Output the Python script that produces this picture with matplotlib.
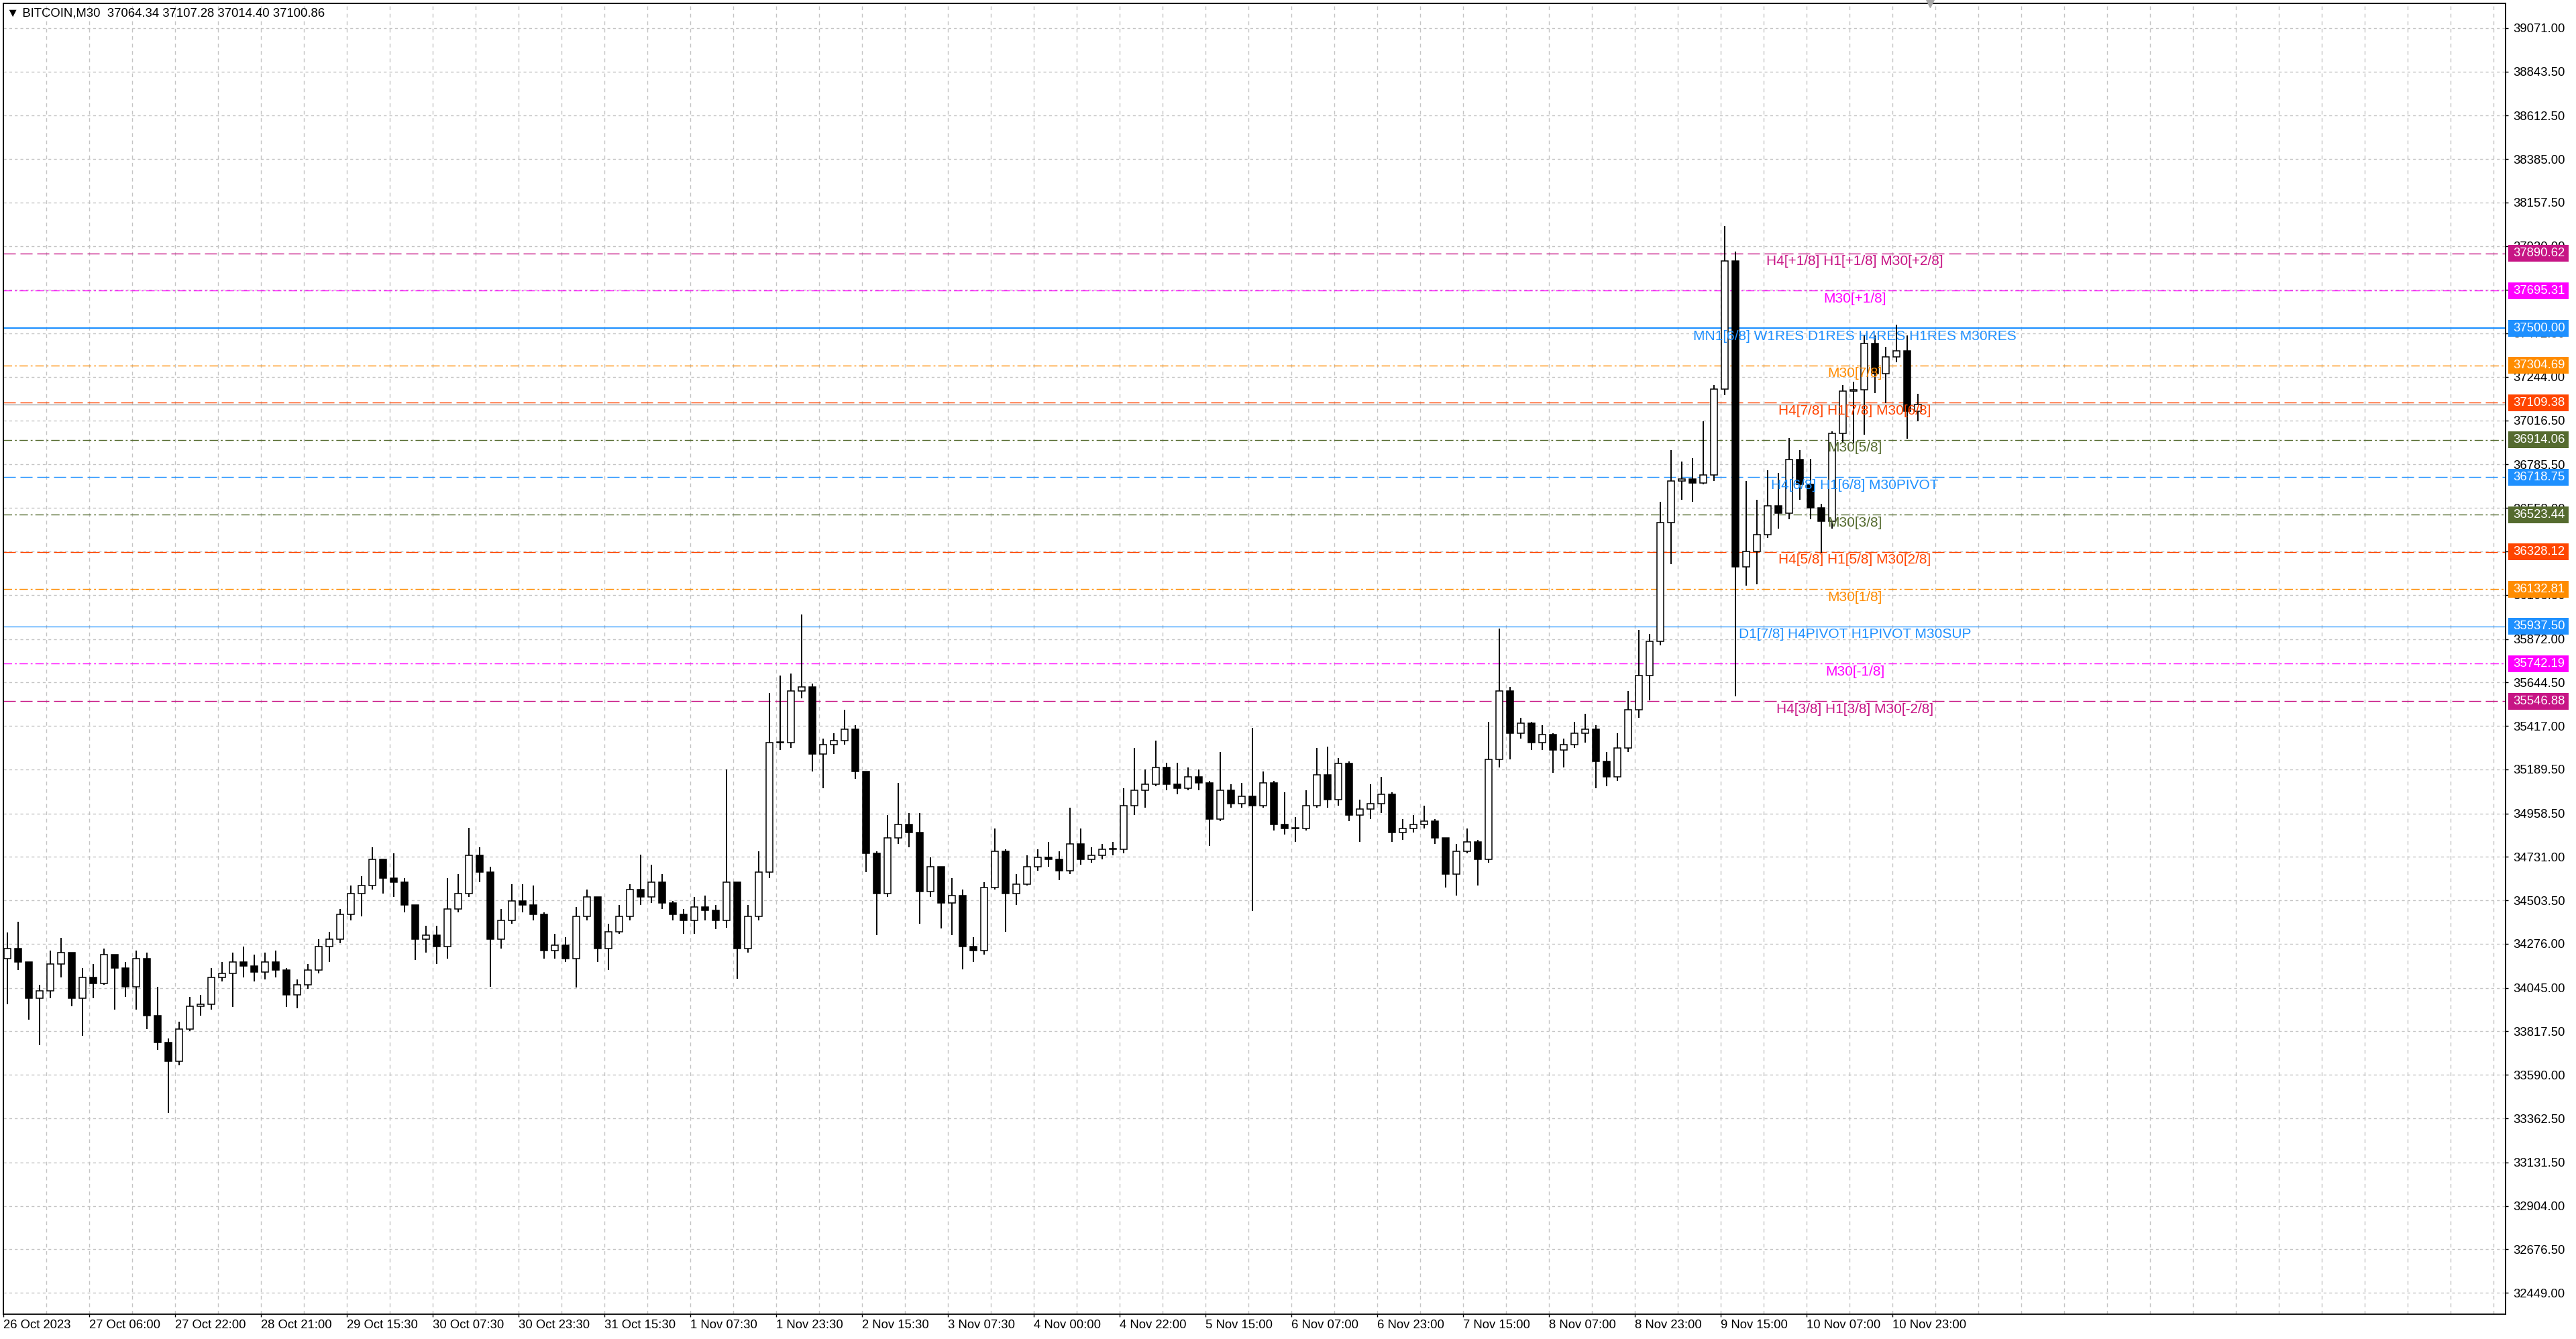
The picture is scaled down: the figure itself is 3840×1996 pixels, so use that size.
import matplotlib
matplotlib.use("Agg")
import matplotlib.pyplot as plt
from matplotlib.patches import Rectangle
from matplotlib.transforms import blended_transform_factory

plt.rcParams['font.family'] = ['Liberation Sans', 'DejaVu Sans']
plt.rcParams['lines.scale_dashes'] = False

# price path in 2-hour steps (4 x M30 bars per candle)
first_open = 34200.0
highs = [
    34334, 34390, 34170, 34060, 34240, 34308, 34230, 34150, 34170, 34250,
    34220, 34180, 34240, 34230, 34050, 33780, 33870, 34000, 34010, 34150,
    34180, 34230, 34260, 34220, 34230, 34240, 34150, 34090, 34170, 34300,
    34340, 34460, 34580, 34630, 34780, 34700, 34750, 34620, 34480, 34370,
    34370, 34620, 34640, 34883, 34780, 34680, 34460, 34590, 34590, 34580,
    34440, 34330, 34310, 34470, 34560, 34520, 34380, 34480, 34590, 34742,
    34690, 34640, 34500, 34460, 34520, 34530, 34480, 35190, 34600, 34480,
    34760, 35590, 35680, 35690, 36001, 35640, 35352, 35380, 35500, 35420,
    35180, 34760, 34950, 35118, 34960, 34960, 34730, 34680, 34620, 34560,
    34310, 34600, 34880, 34770, 34640, 34740, 34770, 34810, 34760, 34990,
    34880, 34780, 34800, 34810, 35090, 35300, 35190, 35340, 35225, 35225,
    35200, 35190, 35130, 35280, 35110, 35120, 35405, 35180, 35130, 35070,
    34940, 35080, 35300, 35310, 35250, 35230, 35030, 35110, 35150, 35070,
    34930, 34950, 35000, 34930, 34830, 34800, 34880, 34820, 35440, 35928,
    35620, 35460, 35440, 35420, 35380, 35350, 35440, 35480, 35420, 35280,
    35380, 35600, 35920, 35900, 36592, 36861, 36802, 36820, 37013, 37200,
    38034, 37900, 36700, 36600, 36755, 36740, 36925, 36860, 36814, 36580,
    36960, 37200, 37220, 37460, 37460, 37400, 37518, 37460, 37155,
]
lows = [
    33960, 34140, 33880, 33746, 33990, 34100, 33950, 33793, 33990, 34060,
    33930, 34000, 33930, 33830, 33720, 33391, 33640, 33820, 33900, 33930,
    34080, 33945, 34100, 34080, 34090, 34100, 33946, 33940, 34040, 34120,
    34180, 34280, 34400, 34420, 34560, 34540, 34520, 34440, 34190, 34230,
    34170, 34200, 34440, 34520, 34600, 34050, 34250, 34380, 34440, 34400,
    34200, 34200, 34180, 34046, 34400, 34180, 34140, 34330, 34400, 34480,
    34490, 34460, 34400, 34330, 34330, 34400, 34353, 34360, 34094, 34230,
    34400, 34620, 35290, 35300, 35560, 35180, 35091, 35270, 35320, 35140,
    34650, 34322, 34520, 34800, 34780, 34380, 34520, 34355, 34320, 34141,
    34181, 34220, 34560, 34340, 34480, 34580, 34660, 34680, 34610, 34640,
    34690, 34700, 34720, 34740, 34750, 34950, 34990, 35100, 35080, 35060,
    35080, 35080, 34790, 34920, 34990, 34990, 34449, 34990, 34870, 34850,
    34810, 34870, 34990, 34990, 35000, 34920, 34810, 34930, 34960, 34810,
    34820, 34860, 34880, 34800, 34570, 34530, 34750, 34580, 34700, 35200,
    35240, 35350, 35290, 35290, 35170, 35200, 35300, 35330, 35090, 35100,
    35130, 35280, 35460, 35550, 35840, 36264, 36600, 36590, 36680, 36700,
    37150, 35573, 36150, 36160, 36400, 36450, 36500, 36600, 36500, 36323,
    36450, 36900, 36896, 36943, 37160, 37107, 37320, 36920, 37013,
]
closes = [
    34250, 34180, 33990, 34030, 34170, 34230, 33990, 34100, 34070, 34220,
    34150, 34050, 34200, 33900, 33760, 33660, 33830, 33950, 33960, 34100,
    34120, 34180, 34160, 34130, 34180, 34140, 34010, 34060, 34140, 34260,
    34300, 34430, 34540, 34580, 34720, 34620, 34600, 34480, 34300, 34320,
    34260, 34460, 34540, 34740, 34650, 34300, 34400, 34500, 34480, 34430,
    34240, 34270, 34200, 34420, 34520, 34250, 34340, 34420, 34560, 34520,
    34600, 34490, 34430, 34400, 34470, 34450, 34400, 34600, 34250, 34420,
    34650, 35330, 35330, 35600, 35620, 35270, 35320, 35340, 35400, 35180,
    34750, 34540, 34830, 34900, 34860, 34550, 34680, 34490, 34530, 34260,
    34240, 34570, 34760, 34540, 34590, 34680, 34730, 34720, 34660, 34800,
    34720, 34740, 34770, 34770, 35000, 35080, 35110, 35200, 35110, 35090,
    35150, 35120, 34930, 35080, 35010, 35050, 35000, 35120, 34900, 34880,
    34880, 35000, 35160, 35030, 35220, 34950, 34980, 35010, 35060, 34860,
    34880, 34900, 34920, 34830, 34640, 34760, 34810, 34720, 35240, 35600,
    35380, 35430, 35330, 35370, 35290, 35320, 35380, 35400, 35230, 35150,
    35300, 35500, 35680, 35860, 36480, 36700, 36710, 36690, 36730, 37180,
    37850, 36250, 36330, 36420, 36570, 36530, 36810, 36680, 36560, 36490,
    36950, 37170, 37177, 37420, 37260, 37350, 37380, 37064, 37100.86,
]
bars_per_candle = 4

# time axis: one label every 32 M30 bars
date_labels = [
    "26 Oct 2023", "27 Oct 06:00", "27 Oct 22:00", "28 Oct 21:00",
    "29 Oct 15:30", "30 Oct 07:30", "30 Oct 23:30", "31 Oct 15:30",
    "1 Nov 07:30", "1 Nov 23:30", "2 Nov 15:30", "3 Nov 07:30",
    "4 Nov 00:00", "4 Nov 22:00", "5 Nov 15:00", "6 Nov 07:00",
    "6 Nov 23:00", "7 Nov 15:00", "8 Nov 07:00", "8 Nov 23:00",
    "9 Nov 15:00", "10 Nov 07:00", "10 Nov 23:00",
]
label_step = 32

price_ticks = [
    32449.00, 32676.50, 32904.00, 33131.50, 33362.50, 33590.00, 33817.50,
    34045.00, 34276.00, 34503.50, 34731.00, 34958.50, 35189.50, 35417.00,
    35644.50, 35872.00, 36103.50, 36330.50, 36558.00, 36785.50, 37016.50,
    37244.00, 37472.50, 37701.50, 37930.00, 38157.50, 38385.00, 38612.50,
    38843.50, 39071.00,
]

# murrey math levels
levels = [37890.62, 37695.31, 37500.00, 37304.69, 37109.38, 36914.06, 36718.75,
          36523.44, 36328.12, 36132.81, 35937.50, 35742.19, 35546.88]
level_texts = [
    "H4[+1/8] H1[+1/8] M30[+2/8]",
    "M30[+1/8]",
    "MN1[6/8] W1RES D1RES H4RES H1RES M30RES",
    "M30[7/8]",
    "H4[7/8] H1[7/8] M30[6/8]",
    "M30[5/8]",
    "H4[6/8] H1[6/8] M30PIVOT",
    "M30[3/8]",
    "H4[5/8] H1[5/8] M30[2/8]",
    "M30[1/8]",
    "D1[7/8] H4PIVOT H1PIVOT M30SUP",
    "M30[-1/8]",
    "H4[3/8] H1[3/8] M30[-2/8]",
]
level_colors = ["#C71585", "#FF00FF", "#1E90FF", "#FF8C00", "#FF4500", "#556B2F",
                "#1E90FF", "#556B2F", "#FF4500", "#FF8C00", "#1E90FF", "#FF00FF",
                "#C71585"]
dash = (0, (13, 5))
dashdot = (0, (9, 3, 2, 3))
level_styles = [dash, dashdot, "-", dashdot, dash, dashdot, dash,
                dashdot, dash, dashdot, "-", dashdot, dash]
level_widths = [1.0, 1.0, 1.6, 1.0, 1.0, 1.0, 1.0, 1.0, 1.0, 1.0, 0.9, 1.0, 1.0]
label_bar = 690

bid_price = 37100.86
header = "\u25bc BITCOIN,M30  37064.34 37107.28 37014.40 37100.86"

W, H = 3840, 1996
fig = plt.figure(figsize=(W / 100, H / 100), dpi=100)
fig.patch.set_facecolor("white")
ax = fig.add_axes([5 / W, 1 - 1959 / H, 3730 / W, 1954 / H])
ax.set_xlim(0, 932.5)
ax.set_ylim(32337, 39200)
px = (39200 - 32337) / 1954.0  # price per pixel

# candles
opens = [first_open] + closes[:-1]
xs = [k * bars_per_candle + 1.5 for k in range(len(closes))]
ax.vlines(xs, lows, highs, color="black", lw=1.4, zorder=3)
bottoms, heights, faces = [], [], []
for o, c in zip(opens, closes):
    bottoms.append(min(o, c))
    heights.append(max(abs(c - o), px))
    faces.append("white" if c >= o else "black")
ax.bar(xs, heights, bottom=bottoms, width=2.4, color=faces,
       edgecolor="black", linewidth=1.1, zorder=4)

# levels, labels and price boxes
trans = blended_transform_factory(ax.transAxes, ax.transData)
ax.axhline(bid_price, color="#a8a8a8", lw=1.0, zorder=2)
for y, txt, col, ls, lw in zip(levels, level_texts, level_colors, level_styles, level_widths):
    ax.axhline(y, color=col, linestyle=ls, lw=lw, zorder=2)
    ax.annotate(txt, xy=(label_bar, y), xytext=(0, -12), textcoords="offset pixels",
                ha="center", va="center", color=col, fontsize=15, zorder=5)
    bh = 25 * px
    ax.add_patch(Rectangle((1.0011, y - bh / 2), 0.0241, bh, transform=trans,
                           facecolor=col, edgecolor="none", clip_on=False, zorder=9))
    ax.text(1.0030, y, f"{y:.2f}", transform=trans, color="white", fontsize=13.3,
            ha="left", va="center", zorder=10, clip_on=False)

# axes styling
for s in ax.spines.values():
    s.set_color("black")
    s.set_linewidth(1.3)
ax.yaxis.tick_right()
ax.set_yticks(price_ticks)
ax.set_yticklabels([f"{v:.2f}" for v in price_ticks])
ax.tick_params(axis="y", labelsize=13.3, length=3, width=1, pad=5, colors="black")

ax.set_xticks([i * label_step for i in range(len(date_labels))])
ax.set_xticklabels(date_labels, ha="left")
ax.set_xticks([i * 16 for i in range(1, 59)], minor=True)
ax.tick_params(axis="x", which="major", labelsize=13.3, length=3, width=1, pad=3)
ax.tick_params(axis="x", which="minor", length=0)
ax.grid(True, axis="y", which="major", color="#c4c4c4", linestyle=(0, (3, 3)), lw=1)
ax.grid(True, axis="x", which="both", color="#c4c4c4", linestyle=(0, (4, 4)), lw=1)

ax.plot([718], [39200], marker="v", color="#a8a8a8", ms=8, clip_on=False, zorder=6)
fig.text(10 / W, 1 - 20 / H, header, fontsize=13.3, ha="left", va="center")

fig.savefig("out.png", dpi=100, facecolor="white")
